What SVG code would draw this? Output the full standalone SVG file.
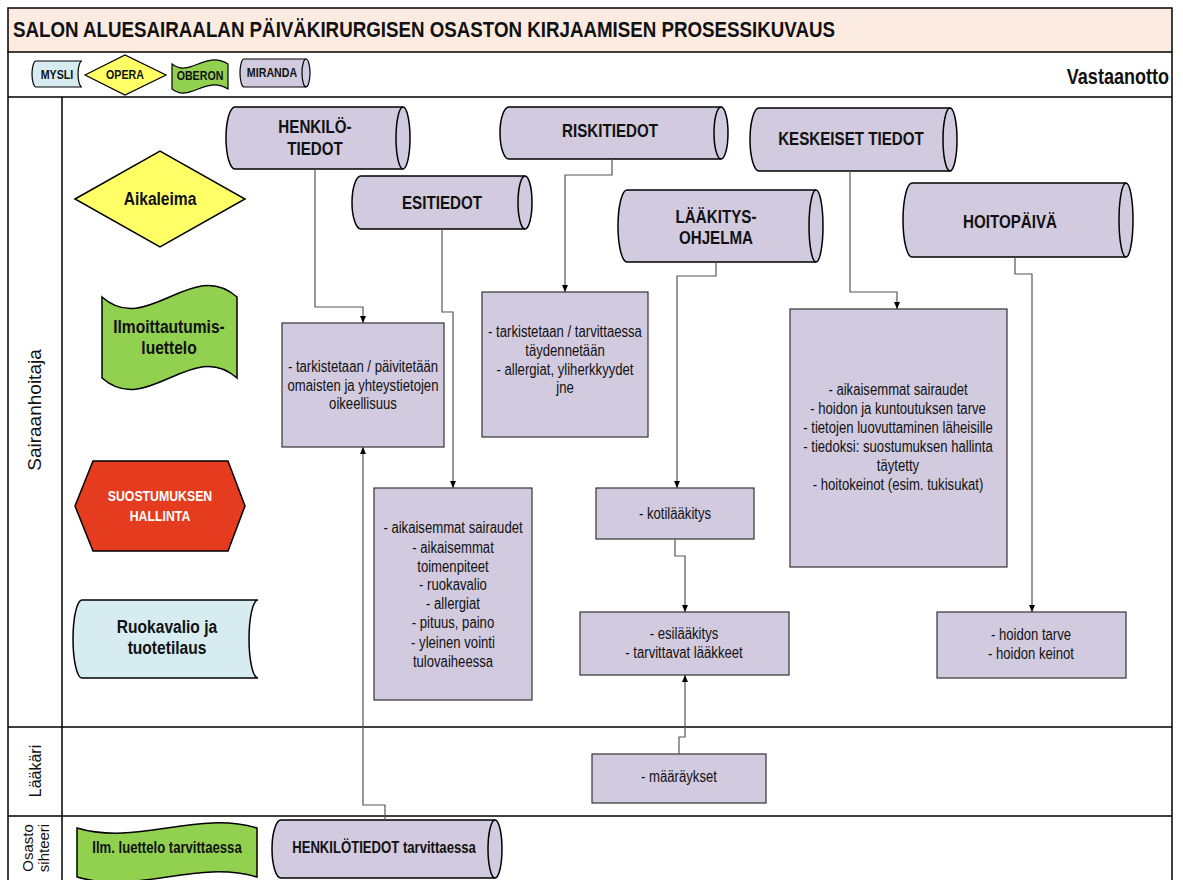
<svg xmlns="http://www.w3.org/2000/svg" width="1183" height="880" viewBox="0 0 1183 880">
<style>
.frame{fill:none;stroke:#000;stroke-width:1.5}
.cyl{fill:#D2CADF;stroke:#000;stroke-width:1.5}
.cylin{fill:none;stroke:#000;stroke-width:1.5}
.box{fill:#D2CADF;stroke:#333;stroke-width:1.2}
.conn{fill:none;stroke:#555;stroke-width:1.2}
.nb{font-family:"Liberation Sans",Arial,sans-serif;font-weight:bold;fill:#111;text-anchor:middle}
.nt{font-family:"Liberation Sans",Arial,sans-serif;font-size:16px;fill:#111;text-anchor:middle}
.lane{font-family:"Liberation Sans",Arial,sans-serif;fill:#111;text-anchor:middle}
</style>
<defs>
<marker id="arr" markerWidth="7" markerHeight="6" refX="7" refY="3" orient="auto" markerUnits="userSpaceOnUse">
<path d="M0,0 L7,3 L0,6 Z" fill="#000"/>
</marker>
</defs>
<rect x="0" y="0" width="1183" height="880" fill="#fff"/>
<g id="frame">
<rect x="8" y="8" width="1164" height="44" fill="#FCEBE1" stroke="#000" stroke-width="1.5"/>
<text x="13" y="37" class="nb" style="text-anchor:start;font-size:22px" textLength="822" lengthAdjust="spacingAndGlyphs">SALON ALUESAIRAALAN PÄIVÄKIRURGISEN OSASTON KIRJAAMISEN PROSESSIKUVAUS</text>
<path class="frame" d="M8,52 L8,880 M1172,52 L1172,880 M8,97 L1172,97 M62,97 L62,880 M8,727 L1172,727 M8,816 L1172,816"/>
<text y="84" class="nb" style="text-anchor:end;font-size:22px" transform="translate(1169,0) scale(0.82,1)">Vastaanotto</text>
<text class="lane" style="font-size:19px" transform="translate(41,410) rotate(-90)">Sairaanhoitaja</text>
<text class="lane" style="font-size:16px" transform="translate(41,771) rotate(-90)">Lääkäri</text>
<text class="lane" style="font-size:15px" transform="translate(33,848) rotate(-90)">Osasto</text>
<text class="lane" style="font-size:15px" transform="translate(49,848) rotate(-90)">sihteeri</text>
</g>
<g id="legend-mysli">
<path d="M36,61 L82,61 A4,13 0 0 0 82,87 L36,87 A4,13 0 0 1 36,61 Z" fill="#D6ECF0" stroke="#000" stroke-width="1.2"/>
<text y="79" class="nb" style="font-size:13px" transform="translate(57,0) scale(0.82,1)">MYSLI</text>
</g>
<g id="legend-opera">
<path d="M85,75 L125,55 L166,75 L125,95 Z" fill="#FFFF66" stroke="#000" stroke-width="1.2"/>
<text y="79" class="nb" style="font-size:13px" transform="translate(125,0) scale(0.82,1)">OPERA</text>
</g>
<g id="legend-oberon">
<path d="M172,64 C190,78 205,50 228,64 L228,89 C205,75 190,103 172,89 Z" fill="#92D050" stroke="#000" stroke-width="1.2"/>
<text y="80" class="nb" style="font-size:13px" transform="translate(200,0) scale(0.82,1)">OBERON</text>
</g>
<g id="legend-miranda">
<path class="cyl" style="stroke-width:1.2" d="M244,59 L306,59 A4,14 0 0 1 306,87 L244,87 A4,14 0 0 1 244,59 Z"/>
<path class="cylin" style="stroke-width:1.2" d="M306,59 A4,14 0 0 0 306,87"/>
<text y="77" class="nb" style="font-size:13px" transform="translate(272,0) scale(0.82,1)">MIRANDA</text>
</g>
<g id="aikaleima">
<path d="M75,199 L160,151 L245,199 L160,247 Z" fill="#FFFF66" stroke="#000" stroke-width="1.5"/>
<text y="205" class="nb" style="font-size:19px" transform="translate(160,0) scale(0.82,1)">Aikaleima</text>
</g>
<g id="ilmoittautumis">
<path d="M102,297 C147,337 192,257 237,297 L237,378 C192,338 147,418 102,378 Z" fill="#92D050" stroke="#000" stroke-width="1.5"/>
<text y="333" class="nb" style="font-size:19px" transform="translate(169,0) scale(0.82,1)">Ilmoittautumis-</text>
<text y="354" class="nb" style="font-size:19px" transform="translate(169,0) scale(0.82,1)">luettelo</text>
</g>
<g id="suostumus">
<path d="M93,461 L228,461 L245,506 L228,551 L93,551 L75,506 Z" fill="#E53B1E" stroke="#000" stroke-width="1.5"/>
<text y="501" class="nb" style="font-size:15px;fill:#fff" transform="translate(160,0) scale(0.82,1)">SUOSTUMUKSEN</text>
<text y="521" class="nb" style="font-size:15px;fill:#fff" transform="translate(160,0) scale(0.82,1)">HALLINTA</text>
</g>
<g id="ruokavalio">
<path d="M82,600 L258,600 A9,39 0 0 0 258,678 L82,678 A9,39 0 0 1 82,600 Z" fill="#D6ECF0" stroke="#000" stroke-width="1.5"/>
<text y="633" class="nb" style="font-size:19px" transform="translate(167,0) scale(0.82,1)">Ruokavalio ja</text>
<text y="654" class="nb" style="font-size:19px" transform="translate(167,0) scale(0.82,1)">tuotetilaus</text>
</g>
<g id="henkilotiedot">
<path class="cyl" d="M235,107 L403,107 A7,31 0 0 1 403,169 L235,169 A9,31 0 0 1 235,107 Z"/>
<path class="cylin" d="M403,107 A7,31 0 0 0 403,169"/>
<text y="133" class="nb" style="font-size:18.5px" transform="translate(315,0) scale(0.82,1)">HENKILÖ-</text>
<text y="155" class="nb" style="font-size:18.5px" transform="translate(315,0) scale(0.82,1)">TIEDOT</text>
</g>
<g id="esitiedot">
<path class="cyl" d="M361,176 L525,176 A7,26.5 0 0 1 525,229 L361,229 A9,26.5 0 0 1 361,176 Z"/>
<path class="cylin" d="M525,176 A7,26.5 0 0 0 525,229"/>
<text y="209" class="nb" style="font-size:18.5px" transform="translate(442,0) scale(0.82,1)">ESITIEDOT</text>
</g>
<g id="riskitiedot">
<path class="cyl" d="M509,107 L721,107 A7,26 0 0 1 721,159 L509,159 A9,26 0 0 1 509,107 Z"/>
<path class="cylin" d="M721,107 A7,26 0 0 0 721,159"/>
<text y="137" class="nb" style="font-size:18.5px" transform="translate(610,0) scale(0.82,1)">RISKITIEDOT</text>
</g>
<g id="laakitysohjelma">
<path class="cyl" d="M627,190 L816,190 A7,36 0 0 1 816,262 L627,262 A9,36 0 0 1 627,190 Z"/>
<path class="cylin" d="M816,190 A7,36 0 0 0 816,262"/>
<text y="223" class="nb" style="font-size:18.5px" transform="translate(716,0) scale(0.82,1)">LÄÄKITYS-</text>
<text y="244" class="nb" style="font-size:18.5px" transform="translate(716,0) scale(0.82,1)">OHJELMA</text>
</g>
<g id="keskeiset">
<path class="cyl" d="M759,108 L950,108 A7,31.5 0 0 1 950,171 L759,171 A9,31.5 0 0 1 759,108 Z"/>
<path class="cylin" d="M950,108 A7,31.5 0 0 0 950,171"/>
<text y="145" class="nb" style="font-size:18.5px" transform="translate(851,0) scale(0.82,1)">KESKEISET TIEDOT</text>
</g>
<g id="hoitopaiva">
<path class="cyl" d="M912,183 L1126,183 A7,37 0 0 1 1126,257 L912,257 A9,37 0 0 1 912,183 Z"/>
<path class="cylin" d="M1126,183 A7,37 0 0 0 1126,257"/>
<text y="228" class="nb" style="font-size:18.5px" transform="translate(1010,0) scale(0.82,1)">HOITOPÄIVÄ</text>
</g>
<g id="box-henkilo">
<rect class="box" x="282" y="323" width="162" height="124"/>
<text class="nt" y="372" transform="translate(363,0) scale(0.82,1)">- tarkistetaan / päivitetään</text>
<text class="nt" y="391" transform="translate(363,0) scale(0.82,1)">omaisten ja yhteystietojen</text>
<text class="nt" y="409" transform="translate(363,0) scale(0.82,1)">oikeellisuus</text>
</g>
<g id="box-riski">
<rect class="box" x="482" y="292" width="166" height="145"/>
<text class="nt" y="337" transform="translate(565,0) scale(0.82,1)">- tarkistetaan / tarvittaessa</text>
<text class="nt" y="356" transform="translate(565,0) scale(0.82,1)">täydennetään</text>
<text class="nt" y="375" transform="translate(565,0) scale(0.82,1)">- allergiat, yliherkkyydet</text>
<text class="nt" y="393" transform="translate(565,0) scale(0.82,1)">jne</text>
</g>
<g id="box-esitiedot">
<rect class="box" x="374" y="488" width="158" height="212"/>
<text class="nt" y="533" transform="translate(453,0) scale(0.82,1)">- aikaisemmat sairaudet</text>
<text class="nt" y="553" transform="translate(453,0) scale(0.82,1)">- aikaisemmat</text>
<text class="nt" y="572" transform="translate(453,0) scale(0.82,1)">toimenpiteet</text>
<text class="nt" y="590" transform="translate(453,0) scale(0.82,1)">- ruokavalio</text>
<text class="nt" y="609" transform="translate(453,0) scale(0.82,1)">- allergiat</text>
<text class="nt" y="628" transform="translate(453,0) scale(0.82,1)">- pituus, paino</text>
<text class="nt" y="648" transform="translate(453,0) scale(0.82,1)">- yleinen vointi</text>
<text class="nt" y="667" transform="translate(453,0) scale(0.82,1)">tulovaiheessa</text>
</g>
<g id="box-kotilaakitys">
<rect class="box" x="596" y="488" width="158" height="51"/>
<text class="nt" y="519" transform="translate(675,0) scale(0.82,1)">- kotilääkitys</text>
</g>
<g id="box-esilaakitys">
<rect class="box" x="580" y="612" width="209" height="63"/>
<text class="nt" y="639" transform="translate(684,0) scale(0.82,1)">- esilääkitys</text>
<text class="nt" y="658" transform="translate(684,0) scale(0.82,1)">- tarvittavat lääkkeet</text>
</g>
<g id="box-maaraykset">
<rect class="box" x="592" y="754" width="174" height="49"/>
<text class="nt" y="782" transform="translate(679,0) scale(0.82,1)">- määräykset</text>
</g>
<g id="box-keskeiset">
<rect class="box" x="790" y="309" width="217" height="258"/>
<text class="nt" y="395" transform="translate(898,0) scale(0.82,1)">- aikaisemmat sairaudet</text>
<text class="nt" y="414" transform="translate(898,0) scale(0.82,1)">- hoidon ja kuntoutuksen tarve</text>
<text class="nt" y="433" transform="translate(898,0) scale(0.82,1)">- tietojen luovuttaminen läheisille</text>
<text class="nt" y="452" transform="translate(898,0) scale(0.82,1)">- tiedoksi: suostumuksen hallinta</text>
<text class="nt" y="471" transform="translate(898,0) scale(0.82,1)">täytetty</text>
<text class="nt" y="490" transform="translate(898,0) scale(0.82,1)">- hoitokeinot (esim. tukisukat)</text>
</g>
<g id="box-hoidon">
<rect class="box" x="937" y="612" width="189" height="66"/>
<text class="nt" y="640" transform="translate(1031,0) scale(0.82,1)">- hoidon tarve</text>
<text class="nt" y="659" transform="translate(1031,0) scale(0.82,1)">- hoidon keinot</text>
</g>
<g id="ilm-tarvittaessa">
<path d="M77,828 C137,846 197,810 257,828 L257,877 C197,859 137,895 77,877 Z" fill="#92D050" stroke="#000" stroke-width="1.5"/>
<text y="853" class="nb" style="font-size:16px" transform="translate(167,0) scale(0.82,1)">Ilm. luettelo tarvittaessa</text>
</g>
<g id="henkilotiedot-tarvittaessa">
<path class="cyl" d="M281,820 L495,820 A7,29 0 0 1 495,878 L281,878 A9,29 0 0 1 281,820 Z"/>
<path class="cylin" d="M495,820 A7,29 0 0 0 495,878"/>
<text y="853" class="nb" style="font-size:16px" transform="translate(384,0) scale(0.82,1)">HENKILÖTIEDOT tarvittaessa</text>
</g>
<g id="connectors">
<path class="conn" marker-end="url(#arr)" d="M315,169 L315,307 L363,307 L363,323"/>
<path class="conn" marker-end="url(#arr)" d="M442,229 L442,312 L453,312 L453,488"/>
<path class="conn" marker-end="url(#arr)" d="M612,159 L612,175 L565,175 L565,292"/>
<path class="conn" marker-end="url(#arr)" d="M716,262 L716,276 L677,276 L677,488"/>
<path class="conn" marker-end="url(#arr)" d="M675,539 L675,556 L685,556 L685,612"/>
<path class="conn" marker-end="url(#arr)" d="M679,754 L679,737 L685,737 L685,675"/>
<path class="conn" marker-end="url(#arr)" d="M850,171 L850,292 L897,292 L897,309"/>
<path class="conn" marker-end="url(#arr)" d="M1015,257 L1015,274 L1032,274 L1032,612"/>
<path class="conn" marker-end="url(#arr)" d="M385,820 L385,805 L363,805 L363,447"/>
</g>
</svg>
